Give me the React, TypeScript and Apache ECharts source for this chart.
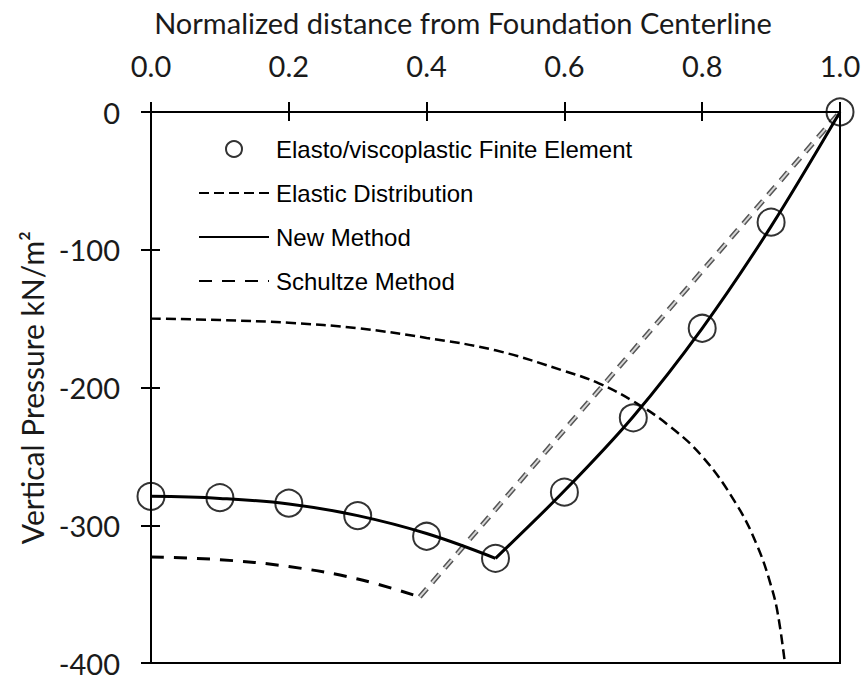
import React, { useEffect, useRef } from "react";
import * as echarts from "echarts";

const xTickValues = [0, 0.2, 0.4, 0.6, 0.8, 1.0];
const yTickValues = [0, -100, -200, -300, -400];

const feX = [0, 0.1, 0.2, 0.3, 0.4, 0.5, 0.6, 0.7, 0.8, 0.9, 1.0];
const feY = [-279, -280, -284, -293, -308, -324, -276, -222, -157, -80, 0];

const newLeftX = [0, 0.1, 0.2, 0.3, 0.4, 0.5];
const newLeftY = [-279, -280.5, -284.5, -293, -306, -324];
const newRightX = [0.5, 0.6, 0.7, 0.8, 0.9, 1.0];
const newRightY = [-324, -275, -221, -157, -83, 0];

const elasticX = [0, 0.1, 0.2, 0.3, 0.4, 0.5, 0.6, 0.65, 0.7, 0.75, 0.8, 0.85, 0.88, 0.9, 0.91, 0.92];
const elasticY = [-150, -151, -153, -157, -164, -173, -188, -197, -210, -227, -250, -285, -315, -344, -365, -400];

const schultzeX = [0, 0.1, 0.2, 0.3, 0.39];
const schultzeY = [-323, -325, -330, -339, -352];
const schultzeLinkX = [0.39, 1.0];
const schultzeLinkY = [-352, 0];

const zip = (xs: number[], ys: number[]) => xs.map((x, i) => [x, ys[i]]);

export default function App() {
  const ref = useRef<HTMLDivElement>(null);
  useEffect(() => {
    if (!ref.current) return;
    const chart = echarts.init(ref.current, undefined, { renderer: "svg" });
    const hideDot = { itemStyle: { opacity: 0 } };
    const textColor = "#1a1a1a";
    chart.setOption({
      animation: false,
      backgroundColor: "#fff",
      title: {
        text: "Normalized distance from Foundation Centerline",
        left: 458,
        top: 3,
        textAlign: "center",
        textStyle: { fontFamily: "Lato", fontSize: 29, fontWeight: "normal", color: textColor },
      },
      grid: {
        left: 151,
        right: 26,
        top: 112,
        bottom: 16,
        show: true,
        borderColor: "#000",
        borderWidth: 2,
        containLabel: false,
      },
      legend: {
        orient: "vertical",
        left: 193,
        top: 132,
        itemWidth: 70,
        itemHeight: 16,
        itemGap: 20,
        textStyle: { fontFamily: "Liberation Sans", fontSize: 24, color: "#000", padding: [0, 0, 0, 2] },
        data: [
          { name: "Elasto/viscoplastic Finite Element" },
          { name: "Elastic Distribution", ...hideDot },
          { name: "New Method", ...hideDot },
          { name: "Schultze Method", ...hideDot },
        ],
      },
      xAxis: [
        {
          type: "value",
          position: "top",
          min: 0,
          max: 1,
          interval: 0.2,
          axisLine: { lineStyle: { color: "#000", width: 2 } },
          axisTick: { inside: false, length: 10, lineStyle: { color: "#000", width: 2 } },
          axisLabel: {
            fontFamily: "Lato",
            fontSize: 29,
            color: textColor,
            margin: 32,
            formatter: (v: number) => (xTickValues.includes(Number(v.toFixed(1))) ? v.toFixed(1) : ""),
          },
          splitLine: { show: false },
        },
        {
          type: "value",
          position: "top",
          min: 0,
          max: 1,
          interval: 0.2,
          axisLine: { show: false },
          axisTick: { inside: true, length: 9, lineStyle: { color: "#000", width: 2 } },
          axisLabel: { show: false },
          splitLine: { show: false },
        },
      ],
      yAxis: [
        {
          type: "value",
          min: -400,
          max: 0,
          interval: 100,
          name: "Vertical Pressure kN/m²",
          nameLocation: "middle",
          nameGap: 104,
          nameRotate: 90,
          nameTextStyle: { fontFamily: "Lato", fontSize: 30, color: textColor },
          axisLine: { onZero: false, lineStyle: { color: "#000", width: 2 } },
          axisTick: { inside: false, length: 10, lineStyle: { color: "#000", width: 2 } },
          axisLabel: {
            fontFamily: "Lato",
            fontSize: 29,
            color: textColor,
            margin: 31,
            formatter: (v: number) => (yTickValues.includes(v) ? String(v) : ""),
          },
          splitLine: { show: false },
        },
        {
          type: "value",
          position: "left",
          min: -400,
          max: 0,
          interval: 100,
          axisLine: { show: false },
          axisTick: { inside: true, length: 9, lineStyle: { color: "#000", width: 2 } },
          axisLabel: { show: false },
          splitLine: { show: false },
        },
      ],
      series: [
        {
          name: "Elastic Distribution",
          type: "line",
          data: zip(elasticX, elasticY),
          smooth: 0.4,
          symbol: "none",
          color: "#000",
          lineStyle: { color: "#000", width: 2.5, type: [10, 5] },
        },
        {
          name: "Schultze Link",
          type: "line",
          data: zip(schultzeLinkX, schultzeLinkY),
          symbol: "none",
          lineStyle: { color: "#555", width: 5, type: [11, 8] },
          z: 2,
        },
        {
          name: "Schultze Link Inner",
          type: "line",
          data: zip(schultzeLinkX, schultzeLinkY),
          symbol: "none",
          lineStyle: { color: "#d8d8d8", width: 2, type: [11, 8] },
          z: 3,
        },
        {
          name: "Schultze Method",
          type: "line",
          data: zip(schultzeX, schultzeY),
          smooth: 0.4,
          symbol: "none",
          color: "#000",
          lineStyle: { color: "#000", width: 3, type: [13, 10] },
        },
        {
          name: "New Method",
          type: "line",
          data: zip(newLeftX, newLeftY),
          smooth: 0.4,
          symbol: "none",
          color: "#000",
          lineStyle: { color: "#000", width: 3 },
          z: 4,
        },
        {
          name: "New Method",
          type: "line",
          data: zip(newRightX, newRightY),
          smooth: 0.3,
          symbol: "none",
          color: "#000",
          lineStyle: { color: "#000", width: 3 },
          z: 4,
        },
        {
          name: "Elasto/viscoplastic Finite Element",
          type: "scatter",
          data: zip(feX, feY),
          symbol: "circle",
          symbolSize: 27,
          clip: false,
          itemStyle: { color: "transparent", borderColor: "#000", borderWidth: 2 },
          z: 5,
        },
      ],
    });
    return () => chart.dispose();
  }, []);
  return <div ref={ref} style={{ position: "absolute", left: 0, top: 0, width: 866, height: 679 }} />;
}
